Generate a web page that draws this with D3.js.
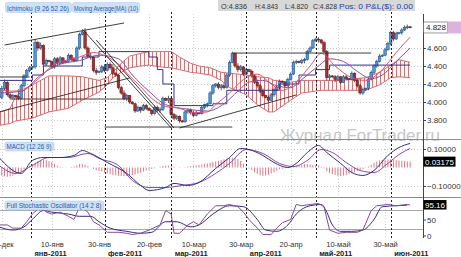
<!DOCTYPE html>
<html><head><meta charset="utf-8">
<script src="https://cdn.jsdelivr.net/npm/d3@7"></script>
<style>
html,body{margin:0;padding:0;background:#fff;}
svg{display:block;font-family:"Liberation Sans",Arial,sans-serif;}
</style></head><body>
<svg id="c" width="461" height="257"></svg>
<script>
// ================= DATA =================
// daily candles (FXCM style: Sunday–Friday), 19 Dec 2010 – 9 Jun 2011
const firstDay = "2010-12-19", lastDay = "2011-06-09";
const opens = [
4.06,4.05,4.15,4.22,4.08,4.05, 4.07,4.06,4.04,4.18,4.29,4.35, 4.38,4.39,4.66,4.60,4.63,4.42,
4.46,4.45,4.39,4.48,4.43,4.49, 4.44,4.45,4.52,4.47,4.46,4.60, 4.75,4.78,4.60,4.51,4.50,4.35,
4.33,4.34,4.39,4.35,4.42,4.38, 4.32,4.30,4.16,4.10,4.04,4.07, 4.00,3.98,3.90,3.94,3.91,3.96,
3.93,3.91,3.87,3.94,3.91,3.92, 4.04,4.02,4.04,3.86,3.82,3.84, 3.79,3.78,3.89,3.91,3.88,3.85,
3.88,3.87,3.94,3.97,3.98,4.10, 4.18,4.20,4.16,4.18,4.16,4.30, 4.44,4.54,4.40,4.36,4.39,4.31,
4.36,4.34,4.29,4.22,4.18,4.12, 4.07,4.05,4.02,4.08,4.14,4.16, 4.23,4.22,4.18,4.25,4.31,4.44,
4.45,4.44,4.46,4.47,4.56,4.60, 4.68,4.70,4.69,4.66,4.56,4.27, 4.29,4.28,4.25,4.28,4.22,4.28,
4.26,4.25,4.32,4.24,4.18,4.10, 4.14,4.15,4.25,4.33,4.40,4.45, 4.51,4.52,4.58,4.65,4.77,4.70,
4.76,4.77,4.80,4.83,4.836];
const highs = [
4.08,4.18,4.25,4.23,4.10,4.09, 4.08,4.14,4.20,4.31,4.37,4.40, 4.40,4.70,4.68,4.66,4.64,4.48,
4.47,4.46,4.50,4.50,4.51,4.50, 4.46,4.54,4.53,4.50,4.62,4.77, 4.79,4.82,4.62,4.55,4.51,4.38,
4.35,4.41,4.42,4.44,4.44,4.42, 4.33,4.31,4.18,4.13,4.09,4.08, 4.01,3.99,3.96,3.95,3.98,3.98,
3.94,3.92,3.96,3.96,3.94,4.06, 4.05,4.07,4.06,3.88,3.86,3.85, 3.80,3.91,3.93,3.93,3.90,3.90,
3.89,3.96,3.98,3.99,4.12,4.20, 4.21,4.22,4.20,4.21,4.32,4.46, 4.56,4.55,4.43,4.41,4.40,4.38,
4.37,4.36,4.31,4.25,4.20,4.15, 4.08,4.07,4.10,4.16,4.18,4.25, 4.24,4.23,4.27,4.33,4.46,4.47,
4.46,4.48,4.49,4.58,4.62,4.70, 4.71,4.72,4.70,4.68,4.58,4.31, 4.30,4.30,4.30,4.29,4.30,4.30,
4.27,4.34,4.33,4.26,4.20,4.16, 4.16,4.27,4.35,4.42,4.47,4.53, 4.53,4.60,4.67,4.79,4.79,4.78,
4.78,4.82,4.85,4.86,4.843];
const lows = [
4.04,4.03,4.13,4.06,4.03,4.03, 4.05,4.02,4.03,4.16,4.27,4.33, 4.36,4.37,4.57,4.58,4.40,4.40,
4.44,4.37,4.37,4.41,4.42,4.42, 4.43,4.44,4.45,4.44,4.45,4.58, 4.74,4.58,4.49,4.47,4.33,4.30,
4.32,4.32,4.33,4.34,4.36,4.30, 4.28,4.14,4.08,4.02,4.01,3.98, 3.97,3.88,3.89,3.88,3.90,3.91,
3.90,3.85,3.86,3.89,3.88,3.90, 4.01,3.99,3.84,3.80,3.80,3.77, 3.77,3.77,3.87,3.86,3.83,3.84,
3.86,3.86,3.92,3.94,3.97,4.08, 4.16,4.14,4.13,4.14,4.15,4.28, 4.43,4.38,4.33,4.34,4.29,4.30,
4.33,4.27,4.20,4.16,4.10,4.05, 4.04,4.00,4.01,4.06,4.12,4.15, 4.21,4.16,4.17,4.24,4.30,4.42,
4.43,4.42,4.43,4.46,4.55,4.59, 4.67,4.66,4.64,4.54,4.24,4.24, 4.27,4.22,4.23,4.20,4.21,4.24,
4.24,4.24,4.22,4.16,4.08,4.08, 4.12,4.13,4.24,4.31,4.38,4.44, 4.50,4.51,4.57,4.63,4.68,4.69,
4.75,4.75,4.79,4.81,4.820];
const closes = [
4.05,4.15,4.22,4.08,4.05,4.07, 4.06,4.04,4.18,4.29,4.35,4.38, 4.39,4.66,4.60,4.63,4.42,4.46,
4.45,4.39,4.48,4.43,4.49,4.44, 4.45,4.52,4.47,4.46,4.60,4.75, 4.78,4.60,4.51,4.50,4.35,4.33,
4.34,4.39,4.35,4.42,4.38,4.32, 4.30,4.16,4.10,4.04,4.07,4.00, 3.98,3.90,3.94,3.91,3.96,3.93,
3.91,3.87,3.94,3.91,3.92,4.04, 4.02,4.04,3.86,3.82,3.84,3.79, 3.78,3.89,3.91,3.88,3.85,3.88,
3.87,3.94,3.97,3.98,4.10,4.18, 4.20,4.16,4.18,4.16,4.30,4.44, 4.54,4.40,4.36,4.39,4.31,4.36,
4.34,4.29,4.22,4.18,4.12,4.07, 4.05,4.02,4.08,4.14,4.16,4.23, 4.22,4.18,4.25,4.31,4.44,4.45,
4.44,4.46,4.47,4.56,4.60,4.68, 4.70,4.69,4.66,4.56,4.27,4.29, 4.28,4.25,4.28,4.22,4.28,4.26,
4.25,4.32,4.24,4.18,4.10,4.14, 4.15,4.25,4.33,4.40,4.45,4.51, 4.52,4.58,4.65,4.77,4.70,4.76,
4.77,4.80,4.83,4.836,4.828];

// MACD histogram (one bar per candle)
const macdHist = [
-0.044,-0.045,-0.048,-0.050,-0.048,-0.044, -0.038,-0.030,-0.020,-0.010,0.000,0.010,
0.018,0.025,0.035,0.040,0.042,0.040, 0.035,0.030,0.020,0.010,0.004,0.002,
0.001,0.000,0.003,0.006,0.012,0.018, 0.018,0.015,0.008,0.000,-0.008,-0.015,
-0.018,-0.022,-0.028,-0.032,-0.036,-0.040, -0.042,-0.044,-0.046,-0.047,-0.046,-0.044,
-0.041,-0.038,-0.034,-0.028,-0.022,-0.016, -0.012,-0.008,-0.004,0.000,0.004,0.008,
0.009,0.010,0.008,0.004,0.000,-0.002, 0.000,0.002,0.005,0.008,0.010,0.012,
0.014,0.016,0.019,0.022,0.026,0.030, 0.033,0.036,0.040,0.044,0.048,0.052,
0.052,0.050,0.045,0.035,0.020,0.005, -0.005,-0.015,-0.025,-0.035,-0.042,-0.045,
-0.043,-0.040,-0.032,-0.025,-0.018,-0.010, -0.007,-0.004,0.000,0.004,0.008,0.012,
0.014,0.016,0.018,0.018,0.016,0.014, 0.012,0.010,0.004,-0.005,-0.020,-0.030,
-0.035,-0.040,-0.045,-0.046,-0.044,-0.040, -0.036,-0.032,-0.026,-0.020,-0.014,-0.008,
-0.002,0.005,0.015,0.025,0.032,0.038, 0.040,0.042,0.044,0.045,0.043,0.040,
0.038,0.036,0.034,0.033,0.032];

// MACD line and signal line (read at sample dates)
const macdDates = ["2010-12-19","2010-12-28","2011-01-02","2011-01-06","2011-01-13","2011-01-19","2011-01-23","2011-01-26","2011-02-02","2011-02-10","2011-02-16","2011-02-20","2011-02-27","2011-03-02","2011-03-08","2011-03-13","2011-03-20","2011-03-25","2011-03-30","2011-04-03","2011-04-08","2011-04-13","2011-04-19","2011-04-22","2011-04-27","2011-05-02","2011-05-05","2011-05-11","2011-05-16","2011-05-20","2011-05-25","2011-05-31","2011-06-05","2011-06-09"];
const macdValues = [0.054,-0.032,0.038,0.054,0.054,0.065,0.092,0.076,0.027,-0.032,-0.097,-0.124,-0.108,-0.086,-0.097,-0.081,-0.005,0.054,0.103,0.097,0.065,0.027,0.000,0.022,0.081,0.119,0.081,0.022,-0.027,-0.043,-0.016,0.065,0.108,0.130];
const signalDates = ["2010-12-19","2010-12-26","2011-01-02","2011-01-09","2011-01-17","2011-01-25","2011-01-30","2011-02-07","2011-02-13","2011-02-20","2011-02-27","2011-03-06","2011-03-13","2011-03-20","2011-03-25","2011-04-01","2011-04-08","2011-04-15","2011-04-21","2011-04-27","2011-05-03","2011-05-08","2011-05-13","2011-05-19","2011-05-25","2011-05-31","2011-06-05","2011-06-09"];
const signalValues = [0.011,-0.032,0.011,0.054,0.054,0.076,0.049,0.011,-0.070,-0.108,-0.108,-0.097,-0.081,-0.032,0.022,0.097,0.076,0.022,0.005,0.038,0.097,0.081,0.027,-0.016,-0.027,0.022,0.070,0.103];

// Full stochastic %K and %D
const stochKDates = ["2010-12-19","2010-12-22","2010-12-24","2010-12-28","2010-12-30","2011-01-02","2011-01-05","2011-01-07","2011-01-10","2011-01-13","2011-01-17","2011-01-19","2011-01-21","2011-01-25","2011-01-27","2011-01-30","2011-02-02","2011-02-07","2011-02-10","2011-02-13","2011-02-16","2011-02-20","2011-02-24","2011-02-27","2011-03-01","2011-03-02","2011-03-04","2011-03-08","2011-03-10","2011-03-13","2011-03-16","2011-03-20","2011-03-23","2011-03-25","2011-03-29","2011-03-31","2011-04-03","2011-04-06","2011-04-08","2011-04-12","2011-04-14","2011-04-17","2011-04-20","2011-04-22","2011-04-25","2011-04-28","2011-05-02","2011-05-04","2011-05-06","2011-05-10","2011-05-13","2011-05-18","2011-05-20","2011-05-24","2011-05-26","2011-05-31","2011-06-03","2011-06-08","2011-06-09"];
const stochKValues = [33,33,23,23,43,67,90,73,67,73,60,50,90,73,43,33,10,10,7,3,7,17,33,78,67,7,7,33,43,33,67,93,93,97,90,73,50,23,3,3,23,40,50,97,93,97,100,90,17,7,10,10,17,78,93,97,93,97,95.16];
const stochDDates = ["2010-12-19","2010-12-24","2010-12-29","2011-01-02","2011-01-06","2011-01-10","2011-01-17","2011-01-21","2011-01-26","2011-01-30","2011-02-03","2011-02-10","2011-02-16","2011-02-21","2011-02-27","2011-03-03","2011-03-09","2011-03-13","2011-03-18","2011-03-25","2011-03-31","2011-04-06","2011-04-10","2011-04-14","2011-04-19","2011-04-22","2011-04-28","2011-05-03","2011-05-05","2011-05-08","2011-05-11","2011-05-16","2011-05-20","2011-05-25","2011-05-29","2011-06-03","2011-06-08"];
const stochDValues = [27,17,27,50,78,73,67,60,60,43,23,13,7,10,43,43,27,33,67,93,90,50,17,13,33,67,93,97,73,33,13,13,17,50,90,93,95];

// Moving Average (10)
const maDates = ["2010-12-19","2010-12-24","2010-12-30","2011-01-05","2011-01-10","2011-01-17","2011-01-21","2011-01-27","2011-02-02","2011-02-07","2011-02-10","2011-02-16","2011-02-21","2011-02-27","2011-03-04","2011-03-10","2011-03-16","2011-03-20","2011-03-25","2011-03-31","2011-04-06","2011-04-12","2011-04-17","2011-04-22","2011-04-28","2011-05-03","2011-05-09","2011-05-16","2011-05-22","2011-05-29","2011-06-03","2011-06-09"];
const maValues = [4.14,4.12,4.16,4.28,4.40,4.47,4.50,4.55,4.50,4.42,4.32,4.17,4.04,3.95,3.93,3.88,3.89,3.97,4.10,4.25,4.31,4.20,4.13,4.22,4.40,4.54,4.40,4.27,4.24,4.36,4.55,4.72];
// Ichimoku: Tenkan-sen, Kijun-sen, Senkou span A / B
const tenkanDates = ["2010-12-19","2010-12-28","2011-01-05","2011-01-13","2011-01-21","2011-01-30","2011-02-07","2011-02-13","2011-02-20","2011-02-27","2011-03-08","2011-03-16","2011-03-23","2011-03-29","2011-04-03","2011-04-08","2011-04-14","2011-04-20","2011-04-25","2011-05-02","2011-05-06","2011-05-12","2011-05-18","2011-05-24","2011-05-29","2011-06-03","2011-06-09"];
const tenkanValues = [4.10,4.12,4.30,4.42,4.46,4.52,4.48,4.30,4.12,3.97,3.92,3.90,3.98,4.12,4.22,4.24,4.18,4.16,4.25,4.40,4.48,4.45,4.34,4.26,4.30,4.45,4.60];
const kijunDates = ["2010-12-19","2011-01-02","2011-01-06","2011-01-23","2011-01-30","2011-02-20","2011-02-23","2011-02-25","2011-03-02","2011-03-18","2011-03-24","2011-04-07","2011-04-15","2011-04-24","2011-05-01","2011-05-06","2011-06-09"];
const kijunValues = [4.24,4.30,4.40,4.50,4.56,4.50,4.36,4.20,3.96,3.98,4.13,4.13,4.20,4.30,4.36,4.41,4.41];
const cloudDates = ["2010-12-19","2010-12-23","2010-12-26","2010-12-28","2011-01-02","2011-01-09","2011-01-17","2011-01-23","2011-01-30","2011-02-02","2011-02-04","2011-02-08","2011-02-11","2011-02-16","2011-02-20","2011-02-24","2011-03-01","2011-03-04","2011-03-09","2011-03-13","2011-03-17","2011-03-22","2011-03-25","2011-04-01","2011-04-06","2011-04-11","2011-04-13","2011-04-20","2011-04-25","2011-05-03","2011-05-11","2011-05-22","2011-05-27","2011-06-01","2011-06-05","2011-06-09"];
const senkouA = [3.88,3.93,4.06,4.11,4.19,4.29,4.29,4.28,4.24,4.27,4.33,4.43,4.51,4.54,4.56,4.56,4.56,4.50,4.43,4.40,4.38,4.33,4.32,4.30,4.28,4.27,4.24,4.22,4.24,4.24,4.24,4.27,4.33,4.41,4.47,4.44];
const senkouB = [3.74,3.76,3.79,3.80,3.82,3.89,3.93,4.02,4.11,4.19,4.27,4.33,4.38,4.40,4.41,4.39,4.38,4.36,4.33,4.32,4.30,4.24,4.16,4.08,3.97,3.89,3.89,4.02,4.10,4.13,4.13,4.13,4.19,4.27,4.28,4.27];

// hand-drawn trend lines [date1, price1, date2, price2]
const trendLines = [
  ["2010-12-21",4.633,"2011-02-09",4.878],
  ["2010-12-19",3.889,"2011-02-11",4.267],
  ["2011-01-23",4.811,"2011-03-01",3.711],
  ["2011-01-28",4.689,"2011-03-02",3.711],
  ["2011-02-01",3.722,"2011-03-27",3.722],
  ["2010-12-23",4.033,"2011-02-11",4.033],
  ["2010-12-19",4.278,"2010-12-31",4.278],
  ["2011-03-04",3.711,"2011-04-22",4.078],
  ["2011-03-27",4.544,"2011-05-24",4.544]
];

// axes
const priceTicks = [3.8,4.0,4.2,4.4,4.6];
const macdTicks = [0.1,-0.1];
const stochTicks = [0,50];
const dayTicks = ["2010-12-20","2011-01-10","2011-01-30","2011-02-20","2011-03-10","2011-03-30","2011-04-20","2011-05-10","2011-05-30"];
const monthTicks = ["2011-01-01","2011-02-01","2011-03-01","2011-04-01","2011-05-01","2011-06-01"];
const ruMonths = ["янв","фев","мар","апр","май","июн","июл","авг","сен","окт","ноя","дек"];
const lastQuote = {o:"4.836",h:"4.843",l:"4.820",c:"4.828"};
const lastPrice = 4.828, lastHist = 0.03175, lastStoch = 95.16;

// ================= DRAW =================
const parse = d3.utcParse("%Y-%m-%d");
const candleDates = [];
for (let d = parse(firstDay); d <= parse(lastDay); d = d3.utcDay.offset(d, 1))
  if (d.getUTCDay() !== 6) candleDates.push(d);
const n = Math.min(candleDates.length, opens.length, highs.length, lows.length, closes.length);
const candles = d3.range(n).map(i => ({i, date:candleDates[i], o:opens[i], h:highs[i], l:lows[i], c:closes[i]}));

const xi = d3.scaleLinear().domain([0, candleDates.length - 1]).range([-1.0, 410.1]);
const xDate = d3.scaleUtc().domain(candleDates).range(candleDates.map((d,i) => xi(i)));
const yP = d3.scaleLinear().domain([3.8, 4.6]).range([120, 48]);
const yM = d3.scaleLinear().domain([-0.1, 0.1]).range([186, 149]);
const yS = d3.scaleLinear().domain([0, 100]).range([235.5, 203.5]);
const AX = 423;

const svg = d3.select("#c");
const defs = svg.append("defs");
const pat = defs.append("pattern").attr("id","hatch").attr("patternUnits","userSpaceOnUse").attr("width",4).attr("height",8);
pat.append("rect").attr("width",4).attr("height",8).attr("fill","#fffafa");
pat.append("line").attr("x1",0.5).attr("x2",0.5).attr("y1",0).attr("y2",8).attr("stroke","#d27474").attr("stroke-width",1);
[["clipMain",12,127],["clipMacd",140,58],["clipSto",198,41]].forEach(([id,y,h]) =>
  defs.append("clipPath").attr("id",id).append("rect").attr("x",0).attr("y",y).attr("width",AX).attr("height",h));

svg.append("rect").attr("width",461).attr("height",257).attr("fill","#fff");

// grid
const grid = svg.append("g");
grid.selectAll(".hg").data(priceTicks).join("line")
  .attr("x1",0).attr("x2",AX).attr("y1",d=>Math.round(yP(d))+0.5).attr("y2",d=>Math.round(yP(d))+0.5)
  .attr("stroke","#c8c8c8").attr("stroke-dasharray","1,2");
grid.selectAll(".mg").data([0.1,-0.1]).join("line")
  .attr("x1",0).attr("x2",AX).attr("y1",d=>Math.round(yM(d))+0.5).attr("y2",d=>Math.round(yM(d))+0.5)
  .attr("stroke","#c8c8c8").attr("stroke-dasharray","1,2");
grid.selectAll(".vg").data(dayTicks).join("line")
  .attr("x1",d=>Math.round(xDate(parse(d)))+0.5).attr("x2",d=>Math.round(xDate(parse(d)))+0.5)
  .attr("y1",14).attr("y2",238).attr("stroke","#d0d0d0").attr("stroke-dasharray","1,2");
// stochastic 80/20
svg.append("g").selectAll("line").data([80,20]).join("line")
  .attr("x1",0).attr("x2",AX).attr("y1",d=>Math.round(yS(d))+0.5).attr("y2",d=>Math.round(yS(d))+0.5)
  .attr("stroke","#a8a8a8");

// watermark
svg.append("text").attr("x",280).attr("y",141).attr("font-size",17).attr("fill","#c6c6c6")
  .attr("textLength",160).attr("lengthAdjust","spacingAndGlyphs").text("Журнал ForTrader.ru");

// ---- main panel ----
const gMain = svg.append("g").attr("clip-path","url(#clipMain)");
const cloud = cloudDates.map((d,i) => ({date:parse(d), a:senkouA[i], b:senkouB[i]}));
gMain.append("path").datum(cloud)
  .attr("d", d3.area().x(d=>xDate(d.date)).y0(d=>yP(d.b)).y1(d=>yP(d.a)))
  .attr("fill","url(#hatch)");
["a","b"].forEach(k => gMain.append("path").datum(cloud)
  .attr("d", d3.line().x(d=>xDate(d.date)).y(d=>yP(d[k])))
  .attr("fill","none").attr("stroke","#d46a72").attr("stroke-width",1));

// month dashed separators
svg.append("g").selectAll("line").data(monthTicks).join("line")
  .attr("x1",d=>Math.round(xDate(parse(d)))+0.5).attr("x2",d=>Math.round(xDate(parse(d)))+0.5)
  .attr("y1",12).attr("y2",240).attr("stroke","#222").attr("stroke-dasharray","2,2");

// candles
const cw = 2.6;
gMain.append("g").selectAll("line").data(candles).join("line")
  .attr("x1",d=>xi(d.i)).attr("x2",d=>xi(d.i)).attr("y1",d=>yP(d.h)).attr("y2",d=>yP(d.l))
  .attr("stroke","#333").attr("stroke-width",0.8);
gMain.append("g").selectAll("rect").data(candles).join("rect")
  .attr("x",d=>xi(d.i)-cw/2).attr("width",cw)
  .attr("y",d=>yP(Math.max(d.o,d.c))).attr("height",d=>Math.max(1,Math.abs(yP(d.o)-yP(d.c))))
  .attr("fill",d=>d.c>=d.o ? "#4a97df" : "#a82e2e")
  .attr("stroke",d=>d.c>=d.o ? "#1f4b7e" : "#5e1414").attr("stroke-width",0.5);

function series(dates, vals){ return dates.map((d,i)=>({date:parse(d), v:vals[i]})); }
function drawLine(g, data, y, color, curve, w){
  g.append("path").datum(data)
   .attr("d", d3.line().x(d=>xDate(d.date)).y(d=>y(d.v)).curve(curve))
   .attr("fill","none").attr("stroke",color).attr("stroke-width",w||1);
}
drawLine(gMain, series(kijunDates,kijunValues), yP, "#33338f", d3.curveStepAfter, 1);
drawLine(gMain, series(tenkanDates,tenkanValues), yP, "#8c4f9e", d3.curveMonotoneX, 1);
drawLine(gMain, series(maDates,maValues), yP, "#e0506e", d3.curveMonotoneX, 1);

// trend lines
gMain.append("g").selectAll("line").data(trendLines).join("line")
  .attr("x1",d=>xDate(parse(d[0]))).attr("y1",d=>yP(d[1]))
  .attr("x2",d=>xDate(parse(d[2]))).attr("y2",d=>yP(d[3]))
  .attr("stroke","#2a2a2a").attr("stroke-width",0.9);

// ---- MACD panel ----
const gM = svg.append("g").attr("clip-path","url(#clipMacd)");
gM.append("g").selectAll("line").data(d3.range(Math.min(n, macdHist.length))).join("line")
  .attr("x1",i=>xi(i)).attr("x2",i=>xi(i)).attr("y1",yM(0)).attr("y2",i=>yM(macdHist[i]))
  .attr("stroke","#e07888").attr("stroke-width",1);
drawLine(gM, series(signalDates,signalValues), yM, "#8a4a9c", d3.curveMonotoneX, 1);
drawLine(gM, series(macdDates,macdValues), yM, "#2e2e86", d3.curveMonotoneX, 1);

// ---- Stochastic panel ----
const gS = svg.append("g").attr("clip-path","url(#clipSto)");
drawLine(gS, series(stochDDates,stochDValues), yS, "#2e2e86", d3.curveMonotoneX, 1);
drawLine(gS, series(stochKDates,stochKValues), yS, "#8a4a9c", d3.curveLinear, 1);

// panel separators
svg.append("g").selectAll("line").data([139.5,197.5]).join("line")
  .attr("x1",0).attr("x2",461).attr("y1",d=>d).attr("y2",d=>d).attr("stroke","#8c8c8c");
// right axis line
svg.append("line").attr("x1",AX+0.5).attr("x2",AX+0.5).attr("y1",14).attr("y2",238).attr("stroke","#444");

function styleAxis(g){
  g.select(".domain").remove();
  g.selectAll(".tick line").attr("stroke","#444");
  g.selectAll("text").attr("font-size",8).attr("fill","#333").attr("font-family","Liberation Sans, Arial, sans-serif");
}
svg.append("g").attr("transform",`translate(${AX},0)`)
  .call(d3.axisRight(yP).tickValues(priceTicks).tickFormat(d3.format(".3f")).tickSize(3).tickPadding(1)).call(styleAxis);
svg.append("g").attr("transform",`translate(${AX},0)`)
  .call(d3.axisRight(yM).tickValues(macdTicks).tickFormat(d3.format(".5f")).tickSize(3).tickPadding(1)).call(styleAxis);
svg.append("g").attr("transform",`translate(${AX},0)`)
  .call(d3.axisRight(yS).tickValues(stochTicks).tickFormat(d3.format("d")).tickSize(3).tickPadding(1)).call(styleAxis);

// current value boxes
const yl = yP(lastPrice);
svg.append("rect").attr("x",AX+0.5).attr("y",yl-5.5).attr("width",24).attr("height",11).attr("fill","#fff").attr("stroke","#555").attr("stroke-width",0.6);
svg.append("rect").attr("x",AX+24.5).attr("y",yl-6).attr("width",14).attr("height",12).attr("fill","#dcb2de");
svg.append("text").attr("x",AX+3).attr("y",yl+3).attr("font-size",8).attr("fill","#222").text(d3.format(".3f")(lastPrice));
const ym = yM(lastHist);
svg.append("rect").attr("x",AX+0.5).attr("y",ym-5).attr("width",32).attr("height",10).attr("fill","#000");
svg.append("text").attr("x",AX+2).attr("y",ym+3).attr("font-size",8).attr("fill","#fff").text(d3.format(".5f")(lastHist));
const ys = yS(lastStoch);
svg.append("rect").attr("x",AX+0.5).attr("y",ys-5).attr("width",23).attr("height",9.5).attr("fill","#000");
svg.append("text").attr("x",AX+2).attr("y",ys+3).attr("font-size",8).attr("fill","#fff").text(d3.format(".2f")(lastStoch));

// bottom axes
const fmtDay = d => d3.utcFormat("%d")(d) + "-" + ruMonths[d.getUTCMonth()];
const fmtMonth = d => ruMonths[d.getUTCMonth()] + "-" + d.getUTCFullYear();
const bx = svg.append("g").attr("transform","translate(0,242)")
  .call(d3.axisBottom(xDate).tickValues(dayTicks.map(parse)).tickFormat(fmtDay).tickSize(0).tickPadding(0));
bx.select(".domain").remove();
bx.selectAll("text").attr("font-size",7.5).attr("fill","#333").attr("font-family","Liberation Sans, Arial, sans-serif");
const mx = svg.append("g").attr("transform","translate(0,251)")
  .call(d3.axisBottom(xDate).tickValues(monthTicks.map(parse)).tickFormat(fmtMonth).tickSize(0).tickPadding(0));
mx.select(".domain").remove();
mx.selectAll("text").attr("font-size",7.5).attr("font-weight","bold").attr("fill","#222")
  .attr("text-anchor","start").attr("dx",3).attr("font-family","Liberation Sans, Arial, sans-serif");

// header labels
function label(x, y, w, h, txt, tl){
  svg.append("rect").attr("x",x).attr("y",y).attr("width",w).attr("height",h).attr("rx",2)
    .attr("fill","#cde2f6").attr("stroke","#a8c6e8").attr("stroke-width",0.5);
  svg.append("text").attr("x",x+1.5).attr("y",y+h-2).attr("font-size",7.5).attr("fill","#2a5ba6")
    .attr("textLength",tl).attr("lengthAdjust","spacingAndGlyphs").text(txt);
}
label(5.5,2.5,66,10,"Ichimoku (9 26 52 26)",62);
label(72.5,2.5,67,10,"Moving Average(MA) (10)",64);
label(5,142,49,9,"MACD (12 26 9)",45);
label(5,201,99,9,"Full Stochastic Oscillator (14 2 8)",95);

// quote bar
svg.append("rect").attr("x",218).attr("y",0).attr("width",197).attr("height",11).attr("fill","#d8d8d8");
const quoteTexts = [
  {x:221, w:26, t:"O:"+lastQuote.o, c:"#333"},
  {x:255, w:23, t:"H:"+lastQuote.h, c:"#333"},
  {x:285, w:23, t:"L:"+lastQuote.l, c:"#333"},
  {x:313, w:24, t:"C:"+lastQuote.c, c:"#333"},
  {x:339, w:74, t:"Pos: 0 P&L($): 0.00", c:"#2442a6"}];
svg.append("g").selectAll("text").data(quoteTexts).join("text")
  .attr("x",d=>d.x).attr("y",8.5).attr("font-size",7.5).attr("fill",d=>d.c)
  .attr("textLength",d=>d.w).attr("lengthAdjust","spacingAndGlyphs").text(d=>d.t);
</script>
</body></html>
